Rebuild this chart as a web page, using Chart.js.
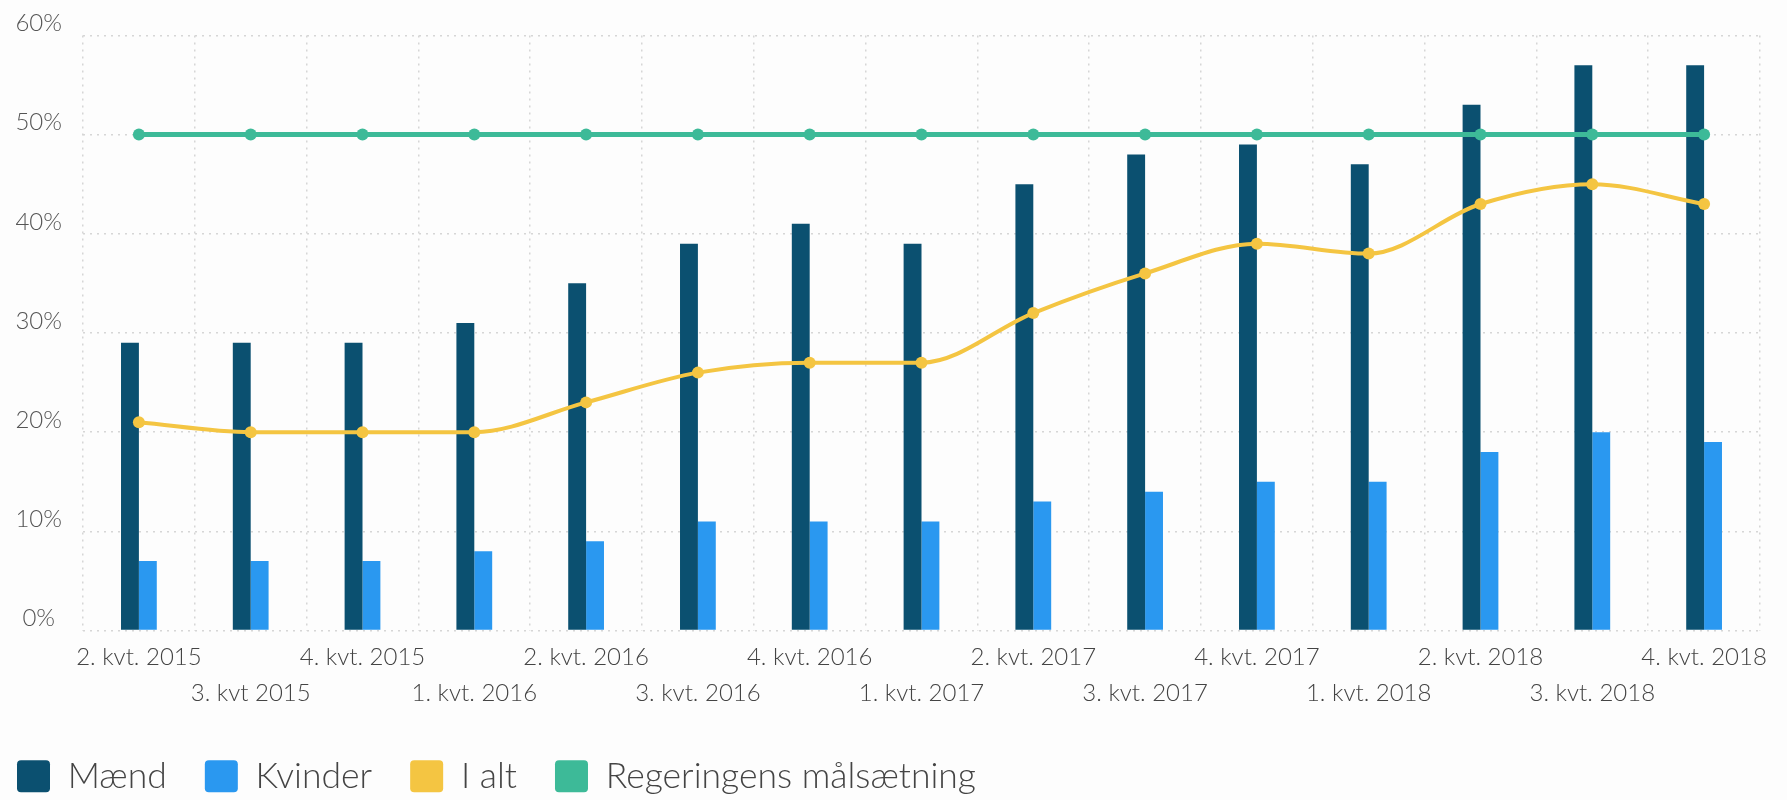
<!DOCTYPE html>
<html>
<head>
<meta charset="utf-8">
<script src="https://cdn.jsdelivr.net/npm/chart.js@4"></script>
<style>
  html, body { margin: 0; padding: 0; background: #fdfdfd; }
  #wrap { width: 1787px; height: 800px; }
</style>
</head>
<body>
<div id="wrap"><canvas id="chart"></canvas></div>
<script>
// quarters shown on the x axis
const QUARTERS = [
  "2. kvt. 2015", "3. kvt 2015", "4. kvt. 2015", "1. kvt. 2016", "2. kvt. 2016",
  "3. kvt. 2016", "4. kvt. 2016", "1. kvt. 2017", "2. kvt. 2017", "3. kvt. 2017",
  "4. kvt. 2017", "1. kvt. 2018", "2. kvt. 2018", "3. kvt. 2018", "4. kvt. 2018",
];

const MAEND = [29, 29, 29, 31, 35, 39, 41, 39, 45, 48, 49, 47, 53, 57, 57];
const KVINDER = [7, 7, 7, 8, 9, 11, 11, 11, 13, 14, 15, 15, 18, 20, 19];
const I_ALT = [21, 20, 20, 20, 23, 26, 27, 27, 32, 36, 39, 38, 43, 45, 43];
const MAAL = [50, 50, 50, 50, 50, 50, 50, 50, 50, 50, 50, 50, 50, 50, 50];

const Y_TICKS = [0, 10, 20, 30, 40, 50, 60];

const COLORS = {
  maend: "#0b5070",
  kvinder: "#2a98f0",
  ialt: "#f4c542",
  maal: "#3dba98",
};

// v4 reads the grid line dash from border.dash
const GRID = { color: "#d6d6d6", lineWidth: 1.5, drawTicks: false };
const BORDER = { display: false, dash: [2, 5] };

// stagger labels on two rows: odd ones get an empty first line
const staggered = QUARTERS.map((q, i) => (i % 2 === 0 ? q : ["", q]));

function lineSet(label, data, color, width) {
  return {
    type: "line",
    label,
    data,
    borderColor: color,
    backgroundColor: color,
    borderWidth: width,
    pointRadius: 6,
    pointBackgroundColor: color,
    pointBorderWidth: 0,
    cubicInterpolationMode: "monotone",
    order: 0,
  };
}

new Chart(document.getElementById("chart"), {
  type: "bar",
  data: {
    labels: staggered,
    datasets: [
      { label: "Mænd", data: MAEND, backgroundColor: COLORS.maend, order: 1,
        categoryPercentage: 0.32, barPercentage: 1 },
      { label: "Kvinder", data: KVINDER, backgroundColor: COLORS.kvinder, order: 1,
        categoryPercentage: 0.32, barPercentage: 1 },
      lineSet("I alt", I_ALT, COLORS.ialt, 4),
      lineSet("Regeringens målsætning", MAAL, COLORS.maal, 5),
    ],
  },
  options: {
    responsive: true,
    maintainAspectRatio: false,
    animation: false,
    layout: { padding: { left: -21, right: 27, top: 17, bottom: -4 } },
    plugins: {
      tooltip: { enabled: false },
      legend: {
        position: "bottom",
        align: "start",
        labels: {
          boxWidth: 33,
          boxHeight: 32,
          padding: 38,
          color: "#444",
          font: { family: "Lato", size: 35.5, weight: 300 },
          useBorderRadius: true,
          borderRadius: 4,
          sort: (a, b) => a.datasetIndex - b.datasetIndex,
          generateLabels: (chart) =>
            Chart.defaults.plugins.legend.labels.generateLabels(chart).map((it) => ({
              ...it, lineWidth: 0, strokeStyle: "transparent",
            })),
        },
      },
    },
    scales: {
      x: {
        border: BORDER,
        grid: GRID,
        ticks: {
          autoSkip: false,
          maxRotation: 0,
          padding: 9,
          color: "#444",
          font: { family: "Lato", size: 24, weight: 300, lineHeight: 1.5 },
        },
      },
      y: {
        min: Y_TICKS[0],
        max: Y_TICKS[Y_TICKS.length - 1],
        border: BORDER,
        grid: GRID,
        afterFit: (axis) => { axis.width = 104; },
        afterBuildTicks: (axis) => { axis.ticks = Y_TICKS.map((v) => ({ value: v })); },
        ticks: {
          crossAlign: "center",
          padding: 21,
          labelOffset: -12,
          color: "#555",
          font: { family: "Lato", size: 24, weight: 300 },
          callback: (v) => v + "%",
        },
      },
    },
  },
});
</script>
</body>
</html>
